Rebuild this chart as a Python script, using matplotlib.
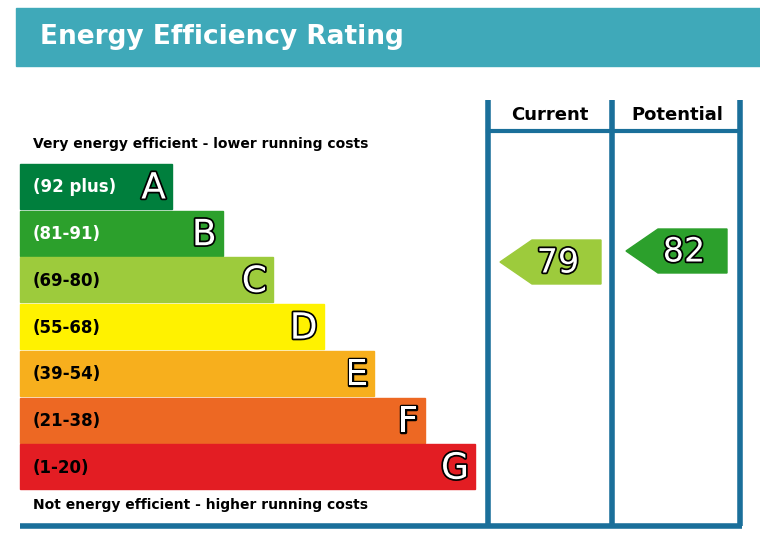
import matplotlib.pyplot as plt
import matplotlib.patheffects as pe
from matplotlib.patches import Rectangle, Polygon

bands = ['A', 'B', 'C', 'D', 'E', 'F', 'G']
ranges = ['(92 plus)', '(81-91)', '(69-80)', '(55-68)', '(39-54)', '(21-38)', '(1-20)']
colors = ['#007f3d', '#2ca02c', '#9dcb3c', '#fff200', '#f7af1d', '#ed6823', '#e31d23']
label_colors = ['white', 'white', 'black', 'black', 'black', 'black', 'black']
current = 79
potential = 82

def band_of(v):
    lims = [92, 81, 69, 55, 39, 21, 1]
    for i, l in enumerate(lims):
        if v >= l:
            return i
    return 6

fig = plt.figure(figsize=(7.6, 5.39), dpi=100)
ax = fig.add_axes([0, 0, 1, 1])
ax.set_xlim(0, 760)
ax.set_ylim(539, 0)
ax.axis('off')

outline = [pe.withStroke(linewidth=2.5, foreground='black')]

# header
ax.add_patch(Rectangle((16, 8), 744, 58, color='#3fa9b9'))
ax.text(40, 37, 'Energy Efficiency Rating', color='white', fontsize=19,
        fontweight='bold', va='center')

# bars
top0, step, h = 164, 46.7, 45
for i in range(7):
    y = top0 + i * step
    right = 172 + i * 50.5
    ax.add_patch(Rectangle((20, y), right - 20, h, color=colors[i]))
    ax.text(33, y + h / 2 + 1, ranges[i], color=label_colors[i], fontsize=12,
            fontweight='bold', va='center')
    ax.text(right - 6, y + h / 2 + 2, bands[i], color='white', fontsize=26,
            ha='right', va='center', path_effects=outline)

ax.text(33, 144, 'Very energy efficient - lower running costs', fontsize=10,
        fontweight='bold', va='center')
ax.text(33, 505, 'Not energy efficient - higher running costs', fontsize=10,
        fontweight='bold', va='center')

# columns
lc = '#1a6f9a'
for x in [488, 612, 740]:
    ax.plot([x, x], [100, 526], color=lc, lw=4, solid_capstyle='butt')
ax.plot([488, 740], [131, 131], color=lc, lw=3)
ax.plot([20, 742], [526, 526], color=lc, lw=4, solid_capstyle='butt')
ax.text(550, 115, 'Current', fontsize=13, fontweight='bold', ha='center', va='center')
ax.text(677, 115, 'Potential', fontsize=13, fontweight='bold', ha='center', va='center')

def arrow(x_tip, y_top, value):
    c = colors[band_of(value)]
    ax.add_patch(Polygon([(x_tip, y_top + 22), (x_tip + 32, y_top), (x_tip + 101, y_top),
                          (x_tip + 101, y_top + 44), (x_tip + 32, y_top + 44)], color=c))
    ax.text(x_tip + 58, y_top + 23, str(value), color='white', fontsize=24,
            ha='center', va='center', path_effects=outline)

arrow(500, 240, current)
arrow(626, 229, potential)

fig.savefig('out.png', dpi=100)
